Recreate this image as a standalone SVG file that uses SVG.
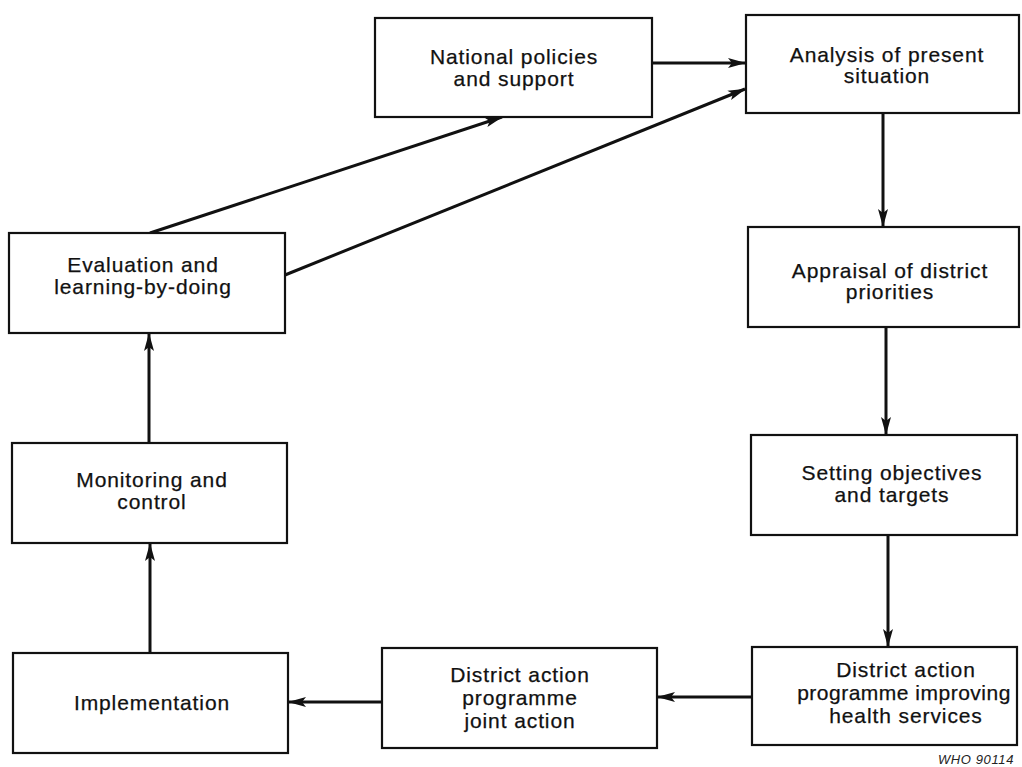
<svg xmlns="http://www.w3.org/2000/svg" width="1022" height="767" viewBox="0 0 1022 767">
<style>
.box{fill:#fff;stroke:#111;stroke-width:2.2}
.t{font-family:"Liberation Sans",Arial,sans-serif;font-size:21px;letter-spacing:0.9px;fill:#111;stroke:#111;stroke-width:0.25;text-anchor:middle}
.c{stroke:#111;stroke-width:3;fill:none;marker-end:url(#ah)}
.who{font-family:"Liberation Sans",Arial,sans-serif;font-size:13px;font-style:italic;letter-spacing:0.6px;fill:#222}
</style>
<defs>
<marker id="ah" viewBox="0 0 18 12" refX="17" refY="6" markerWidth="18" markerHeight="12" markerUnits="userSpaceOnUse" orient="auto">
<path d="M0,1 L18,6 L0,11 L4,6 Z" fill="#111"/>
</marker>
</defs>
<rect width="1022" height="767" fill="#fff"/>
<g id="connectors">
<line class="c" x1="652" y1="63" x2="745" y2="63"/>
<line class="c" x1="150" y1="233" x2="502" y2="117"/>
<line class="c" x1="285" y1="275" x2="745" y2="89"/>
<line class="c" x1="883" y1="113" x2="883" y2="226"/>
<line class="c" x1="886" y1="327" x2="886" y2="434"/>
<line class="c" x1="888" y1="535" x2="888" y2="646"/>
<line class="c" x1="752" y1="697" x2="658" y2="697"/>
<line class="c" x1="382" y1="702" x2="289" y2="702"/>
<line class="c" x1="150" y1="653" x2="150" y2="544"/>
<line class="c" x1="149" y1="443" x2="149" y2="334"/>
</g>
<g id="national">
<rect class="box" x="375" y="18" width="277" height="99"/>
<text class="t" x="514" y="64">National policies</text>
<text class="t" x="514" y="86">and support</text>
</g>
<g id="analysis">
<rect class="box" x="746" y="15" width="273" height="98"/>
<text class="t" x="887" y="62">Analysis of present</text>
<text class="t" x="887" y="83">situation</text>
</g>
<g id="appraisal">
<rect class="box" x="748" y="227" width="271" height="100"/>
<text class="t" x="890" y="278">Appraisal of district</text>
<text class="t" x="890" y="299">priorities</text>
</g>
<g id="setting">
<rect class="box" x="751" y="435" width="266" height="100"/>
<text class="t" x="892" y="480">Setting objectives</text>
<text class="t" x="892" y="502">and targets</text>
</g>
<g id="improving">
<rect class="box" x="752" y="647" width="265" height="98"/>
<text class="t" x="906" y="677">District action</text>
<text class="t" x="904" y="700" style="letter-spacing:0.5px">programme  improving</text>
<text class="t" x="906" y="723">health services</text>
</g>
<g id="joint">
<rect class="box" x="382" y="648" width="275" height="100"/>
<text class="t" x="520" y="682">District action</text>
<text class="t" x="520" y="705">programme</text>
<text class="t" x="520" y="728">joint action</text>
</g>
<g id="implementation">
<rect class="box" x="13" y="653" width="275" height="100"/>
<text class="t" x="152" y="710">Implementation</text>
</g>
<g id="monitoring">
<rect class="box" x="12" y="443" width="275" height="100"/>
<text class="t" x="152" y="487">Monitoring and</text>
<text class="t" x="152" y="509">control</text>
</g>
<g id="evaluation">
<rect class="box" x="9" y="233" width="276" height="100"/>
<text class="t" x="143" y="272">Evaluation and</text>
<text class="t" x="143" y="294">learning-by-doing</text>
</g>
<text class="who" x="938" y="764">WHO 90114</text>
</svg>
